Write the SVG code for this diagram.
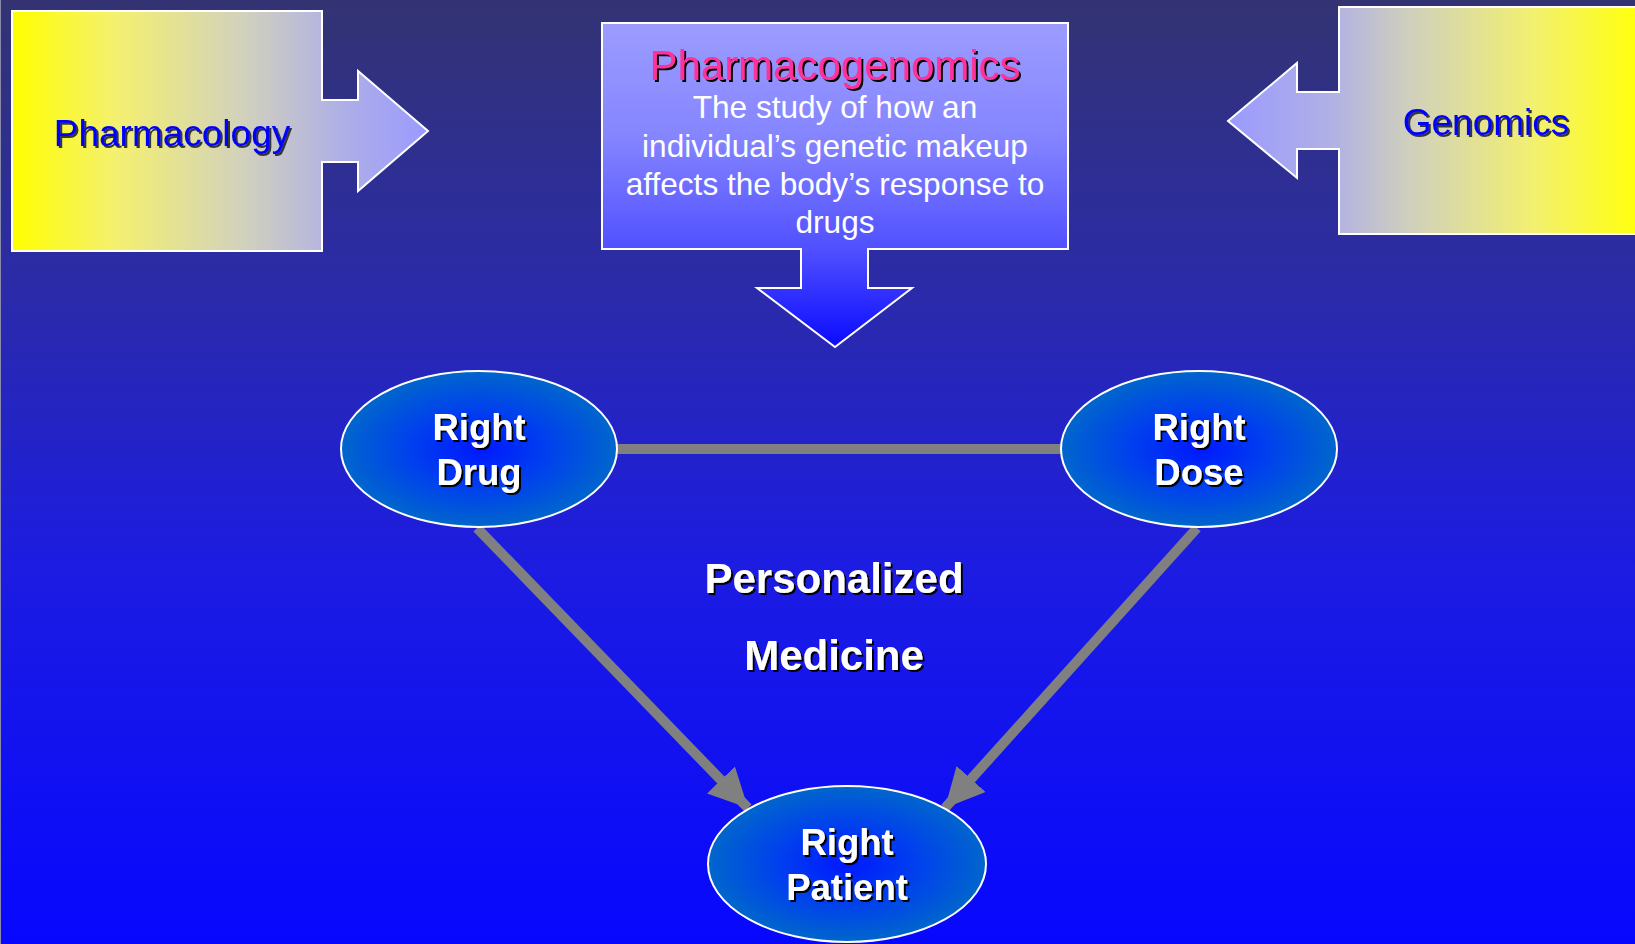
<svg xmlns="http://www.w3.org/2000/svg" width="1635" height="944" viewBox="0 0 1635 944">
<defs>
<linearGradient id="bg" x1="0" y1="0" x2="0" y2="1">
<stop offset="0" stop-color="#333373"/>
<stop offset="0.3" stop-color="#2b2ba8"/>
<stop offset="0.6" stop-color="#1c1ce2"/>
<stop offset="1" stop-color="#0707ff"/>
</linearGradient>
<linearGradient id="gl" gradientUnits="userSpaceOnUse" x1="12" y1="0" x2="428" y2="0">
<stop offset="0" stop-color="#ffff00"/>
<stop offset="0.25" stop-color="#f4f070"/>
<stop offset="0.55" stop-color="#d2d2bc"/>
<stop offset="0.8" stop-color="#aeaee8"/>
<stop offset="1" stop-color="#9a9aff"/>
</linearGradient>
<linearGradient id="gr" gradientUnits="userSpaceOnUse" x1="1228" y1="0" x2="1635" y2="0">
<stop offset="0" stop-color="#9a9aff"/>
<stop offset="0.25" stop-color="#b0b0e6"/>
<stop offset="0.45" stop-color="#d0d0bc"/>
<stop offset="0.75" stop-color="#f2f070"/>
<stop offset="1" stop-color="#ffff10"/>
</linearGradient>
<linearGradient id="gc" gradientUnits="userSpaceOnUse" x1="0" y1="23" x2="0" y2="347">
<stop offset="0" stop-color="#9c9cff"/>
<stop offset="0.35" stop-color="#8585ff"/>
<stop offset="0.7" stop-color="#5050ff"/>
<stop offset="1" stop-color="#0a0aff"/>
</linearGradient>
<radialGradient id="ge" cx="0.5" cy="0.5" r="0.5">
<stop offset="0" stop-color="#0018ff"/>
<stop offset="0.5" stop-color="#0040ee"/>
<stop offset="1" stop-color="#0066cc"/>
</radialGradient>
<filter id="sh" x="-10%" y="-10%" width="120%" height="130%">
<feDropShadow dx="2" dy="2" stdDeviation="0.5" flood-color="#000" flood-opacity="1"/>
</filter>
<filter id="sh2" x="-10%" y="-10%" width="120%" height="130%">
<feDropShadow dx="2" dy="2" stdDeviation="0.5" flood-color="#222" flood-opacity="0.9"/>
</filter>
<marker id="ah" viewBox="0 0 10 10" refX="10" refY="5" markerWidth="3.9" markerHeight="3.9" orient="auto" markerUnits="strokeWidth">
<path d="M0,0 L10,5 L0,10 Z" fill="#808080"/>
</marker>
<style>
.oval{fill:url(#ge);stroke:#ffffff;stroke-width:2}
.ot{font-family:"Liberation Sans",Arial,sans-serif;font-weight:bold;font-size:36.5px;fill:#ffffff;text-anchor:middle;filter:url(#sh)}
.bt{font-family:"Liberation Sans",Arial,sans-serif;font-size:37px;fill:#0000ff;text-anchor:middle;filter:url(#sh2)}
.conn{stroke:#808080;stroke-width:10;fill:none}
.shape{stroke:#ffffff;stroke-width:2}
</style>
</defs>
<rect x="0" y="0" width="1635" height="944" fill="url(#bg)"/>
<line x1="0.5" y1="0" x2="0.5" y2="944" stroke="#8a8aaa" stroke-width="1"/>

<g id="pharmacology">
<path class="shape" fill="url(#gl)" d="M12,11 H322 V100 H358 V71 L428,131 L358,191 V162 H322 V251 H12 Z"/>
<text class="bt" x="172" y="146">Pharmacology</text>
</g>

<g id="genomics">
<path class="shape" fill="url(#gr)" d="M1640,7 H1339 V92 H1297 V63 L1228,121 L1297,178 V149 H1339 V234 H1640"/>
<text class="bt" x="1486" y="135">Genomics</text>
</g>

<g id="pharmacogenomics">
<path class="shape" fill="url(#gc)" d="M602,23 H1068 V249 H868 V288 H912 L835,347 L757,288 H801 V249 H602 Z"/>
<text x="835" y="80" font-family="Liberation Sans, Arial, sans-serif" font-size="42" fill="#ff3399" text-anchor="middle" filter="url(#sh)">Pharmacogenomics</text>
<g font-family="Liberation Sans, Arial, sans-serif" font-size="31.6" fill="#ffffff" text-anchor="middle">
<text x="835" y="118">The study of how an</text>
<text x="835" y="157">individual’s genetic makeup</text>
<text x="835" y="195">affects the body’s response to</text>
<text x="835" y="233">drugs</text>
</g>
</g>

<g id="connectors">
<line class="conn" x1="617" y1="449" x2="1061" y2="449"/>
<line class="conn" x1="477" y1="528" x2="748" y2="808" marker-end="url(#ah)"/>
<line class="conn" x1="1197" y1="528" x2="945" y2="808" marker-end="url(#ah)"/>
</g>

<g id="right-drug">
<ellipse class="oval" cx="479" cy="449" rx="138" ry="78"/>
<text class="ot" x="479" y="440">Right</text>
<text class="ot" x="479" y="485">Drug</text>
</g>

<g id="right-dose">
<ellipse class="oval" cx="1199" cy="449" rx="138" ry="78"/>
<text class="ot" x="1199" y="440">Right</text>
<text class="ot" x="1199" y="485">Dose</text>
</g>

<g id="right-patient">
<ellipse class="oval" cx="847" cy="864" rx="139" ry="78"/>
<text class="ot" x="847" y="855">Right</text>
<text class="ot" x="847" y="900">Patient</text>
</g>

<g id="personalized-medicine">
<text class="ot" x="834" y="593" style="font-size:42px">Personalized</text>
<text class="ot" x="834" y="670" style="font-size:42px">Medicine</text>
</g>
</svg>
